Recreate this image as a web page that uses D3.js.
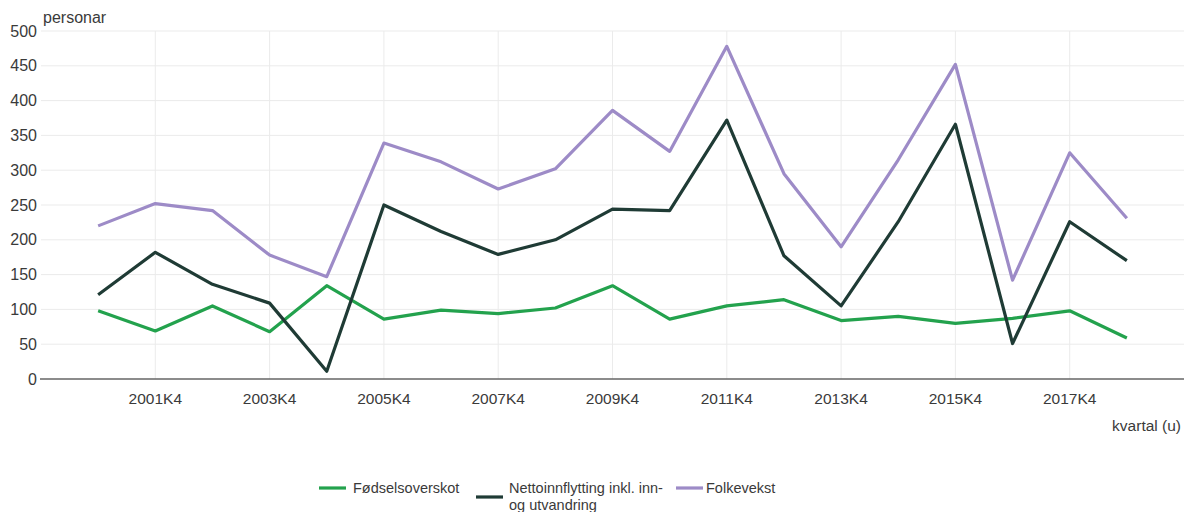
<!DOCTYPE html>
<html><head><meta charset="utf-8">
<script src="https://cdn.jsdelivr.net/npm/d3@7"></script>
<style>
body{margin:0;background:#fff;}
text{font-family:Arial,"Liberation Sans",sans-serif;}
</style></head>
<body><svg id="c" width="1186" height="512"></svg>
<script>
const categories = ["2000K4","2001K4","2002K4","2003K4","2004K4","2005K4","2006K4","2007K4","2008K4","2009K4","2010K4","2011K4","2012K4","2013K4","2014K4","2015K4","2016K4","2017K4","2018K4"];
const fodselsoverskot = [98,69,105,68,134,86,99,94,102,134,86,105,114,84,90,80,87,98,59];
const nettoinnflytting = [121,182,136,109,11,250,212,179,200,244,242,372,177,105,226,366,51,226,170];
const folkevekst = [220,252,242,178,147,339,312,273,302,386,327,478,295,190,315,452,142,325,231];
const yTicks = [0,50,100,150,200,250,300,350,400,450,500];
const xTickLabels = ["2001K4","2003K4","2005K4","2007K4","2009K4","2011K4","2013K4","2015K4","2017K4"];
const seriesNames = ["Fødselsoverskot","Nettoinnflytting inkl. inn-og utvandring","Folkevekst"];
const colors = ["#23a24d","#1f3b35","#9d8bc7"];

const svg = d3.select("#c");
const pLeft = 41, pRight = 1184, pTop = 31, pBottom = 379;
const x = d3.scaleLinear().domain([-1, categories.length]).range([pLeft, pRight]);
const y = d3.scaleLinear().domain([0, 500]).range([pBottom, pTop]);
const fs = 15.5, lfs = 14.5;

// horizontal grid
svg.append("g").selectAll("line").data(yTicks.filter(d=>d>0)).join("line")
  .attr("x1", pLeft).attr("x2", pRight).attr("y1", d=>y(d)).attr("y2", d=>y(d))
  .attr("stroke", "#ebebeb").attr("stroke-width", 1);
// vertical grid
svg.append("g").selectAll("line").data(xTickLabels).join("line")
  .attr("x1", d=>x(categories.indexOf(d))).attr("x2", d=>x(categories.indexOf(d)))
  .attr("y1", pTop).attr("y2", pBottom)
  .attr("stroke", "#ebebeb").attr("stroke-width", 1);

// y labels
svg.append("g").selectAll("text").data(yTicks).join("text")
  .attr("x", 37).attr("y", d=>y(d)).attr("dy", "0.35em").attr("text-anchor","end")
  .attr("font-size", 16).attr("fill", "#3a3a3a").text(d=>d);

// x labels
svg.append("g").selectAll("text").data(xTickLabels).join("text")
  .attr("x", d=>x(categories.indexOf(d))).attr("y", 404).attr("text-anchor","middle")
  .attr("font-size", fs).attr("fill", "#3a3a3a").text(d=>d);

// baseline
svg.append("line").attr("x1", 40).attr("x2", pRight).attr("y1", y(0)).attr("y2", y(0))
  .attr("stroke", "#666").attr("stroke-width", 1.5);

const line = d3.line().x((d,i)=>x(i)).y(d=>y(d));
[fodselsoverskot, nettoinnflytting, folkevekst].forEach((s,k)=>{
  svg.append("path").datum(s).attr("d", line).attr("fill","none")
    .attr("stroke", colors[k]).attr("stroke-width", 3.2).attr("stroke-linejoin","round");
});

svg.append("text").attr("x", 43).attr("y", 23).attr("font-size", 16).attr("fill","#3a3a3a").text("personar");
svg.append("text").attr("x", 1181).attr("y", 431).attr("text-anchor","end").attr("font-size", fs).attr("fill","#3a3a3a").text("kvartal (u)");

// legend
const lg = svg.append("g");
lg.append("line").attr("x1",319).attr("x2",346).attr("y1",488).attr("y2",488).attr("stroke",colors[0]).attr("stroke-width",3.2);
lg.append("text").attr("x",353).attr("y",493).attr("font-size",lfs).attr("fill","#3a3a3a").text(seriesNames[0]);
lg.append("line").attr("x1",476).attr("x2",503).attr("y1",497).attr("y2",497).attr("stroke",colors[1]).attr("stroke-width",3.2);
lg.append("text").attr("x",509).attr("y",493).attr("font-size",lfs).attr("fill","#3a3a3a").text("Nettoinnflytting inkl. inn-");
lg.append("text").attr("x",509).attr("y",510).attr("font-size",lfs).attr("fill","#3a3a3a").text("og utvandring");
lg.append("line").attr("x1",676).attr("x2",703).attr("y1",488).attr("y2",488).attr("stroke",colors[2]).attr("stroke-width",3.2);
lg.append("text").attr("x",706).attr("y",493).attr("font-size",lfs).attr("fill","#3a3a3a").text(seriesNames[2]);
</script></body></html>
